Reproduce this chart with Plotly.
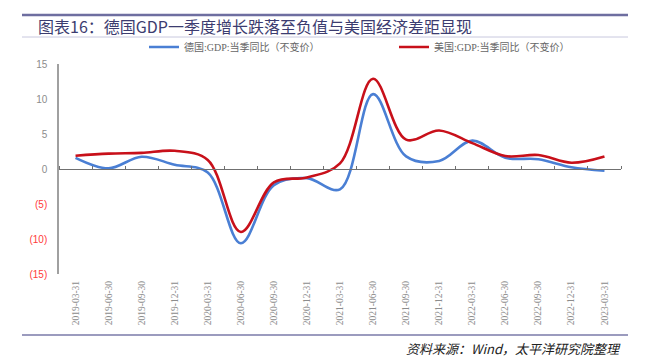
import plotly.graph_objects as go

categories = ['2019-03-31', '2019-06-30', '2019-09-30', '2019-12-31', '2020-03-31',
              '2020-06-30', '2020-09-30', '2020-12-31', '2021-03-31', '2021-06-30',
              '2021-09-30', '2021-12-31', '2022-03-31', '2022-06-30', '2022-09-30',
              '2022-12-31', '2023-03-31']
germany = [1.6, 0.1, 1.75, 0.6, -0.5, -10.6, -2.3, -1.3, -2.9, 10.7,
           1.8, 1.15, 4.05, 1.6, 1.4, 0.25, -0.25]
usa = [1.9, 2.2, 2.3, 2.6, 1.3, -9.0, -1.9, -1.2, 0.8, 12.9,
       4.2, 5.5, 3.7, 1.85, 2.0, 0.9, 1.8]
ytickvals = [15, 10, 5, 0, -5, -10, -15]
yticktext = ['15', '10', '5', '0',
             '<span style="color:#ff3b3b">(5)</span>',
             '<span style="color:#ff3b3b">(10)</span>',
             '<span style="color:#ff3b3b">(15)</span>']

title_text = '图表16：德国GDP一季度增长跌落至负值与美国经济差距显现'
source_text = '资料来源：Wind，太平洋研究院整理'
name_de = '德国:GDP:当季同比（不变价）'
name_us = '美国:GDP:当季同比（不变价）'

W, H = 649, 360
L, R, T, B = 59, 28, 64, 86
PW, PH = W - L - R, H - T - B


def px_x(px):
    return (px - L) / PW


def px_y(py):
    return (H - B - py) / PH


CJK = 'Noto Sans CJK SC'
SERIF = 'Liberation Serif, Noto Sans CJK SC'

fig = go.Figure()
fig.add_trace(go.Scatter(x=categories, y=germany, name=name_de, mode='lines',
                         line=dict(color='#4a7fd4', width=2.6, shape='spline', smoothing=1)))
fig.add_trace(go.Scatter(x=categories, y=usa, name=name_us, mode='lines',
                         line=dict(color='#c8101a', width=2.6, shape='spline', smoothing=1)))
# invisible trace to activate the zero-line axis
fig.add_trace(go.Scatter(x=[None], y=[None], xaxis='x2', showlegend=False, hoverinfo='skip'))

fig.update_layout(
    width=W, height=H,
    margin=dict(l=L, r=R, t=T, b=B, autoexpand=False),
    paper_bgcolor='white', plot_bgcolor='white',
    showlegend=True,
    legend=dict(orientation='h', xref='container', yref='container',
                x=144 / W, y=1 - 47 / H, xanchor='left', yanchor='middle',
                font=dict(family=SERIF, size=10, color='#666666'),
                itemwidth=30, entrywidth=205, entrywidthmode='pixels',
                bgcolor='rgba(0,0,0,0)', tracegroupgap=0),
    xaxis=dict(type='category', range=[-0.5, 16.5], showgrid=False, showline=False,
               ticks='', tickangle=-90, tickfont=dict(family=SERIF, size=9.5, color='#8c8c8c'),
               ticklabelstandoff=4, fixedrange=True, automargin=False),
    xaxis2=dict(overlaying='x', anchor='free', position=0.5, side='top',
                range=[-0.5, 16.5], tick0=-0.5, dtick=1, showticklabels=False,
                ticks='outside', ticklen=3, tickcolor='#707070', tickwidth=1,
                showline=True, linecolor='#707070', linewidth=1, showgrid=False,
                zeroline=False),
    yaxis=dict(range=[-15, 15], tickvals=ytickvals, ticktext=yticktext, showgrid=False,
               zeroline=False, showline=True, linecolor='#a0a0a0', linewidth=1.5,
               ticks='', tickfont=dict(family='Liberation Sans, Arial', size=10, color='#8c8c8c'),
               ticklabelstandoff=8, automargin=False),
)

# title, rules, source
fig.add_shape(type='line', xref='paper', yref='paper', x0=px_x(22), x1=px_x(628),
              y0=px_y(15), y1=px_y(15), line=dict(color='#6e6ea0', width=2.5))
fig.add_shape(type='line', xref='paper', yref='paper', x0=px_x(22), x1=px_x(628),
              y0=px_y(37), y1=px_y(37), line=dict(color='#c8c8de', width=1))
fig.add_shape(type='line', xref='paper', yref='paper', x0=px_x(22), x1=px_x(628),
              y0=px_y(335), y1=px_y(335), line=dict(color='#7a7aa8', width=1.5))
fig.add_annotation(text=title_text, xref='paper', yref='paper', x=px_x(36), y=px_y(26),
                   xanchor='left', yanchor='middle', showarrow=False,
                   font=dict(family=CJK, size=16, color='#3c3c70'))
fig.add_annotation(text='<i>' + source_text + '</i>', xref='paper', yref='paper',
                   x=px_x(623), y=px_y(348), xanchor='right', yanchor='middle', showarrow=False,
                   font=dict(family=CJK, size=13, color='#222222'))

fig.write_html('out.html', config={'displayModeBar': False},
               post_script="document.body.style.margin='0';document.body.style.padding='0';")
